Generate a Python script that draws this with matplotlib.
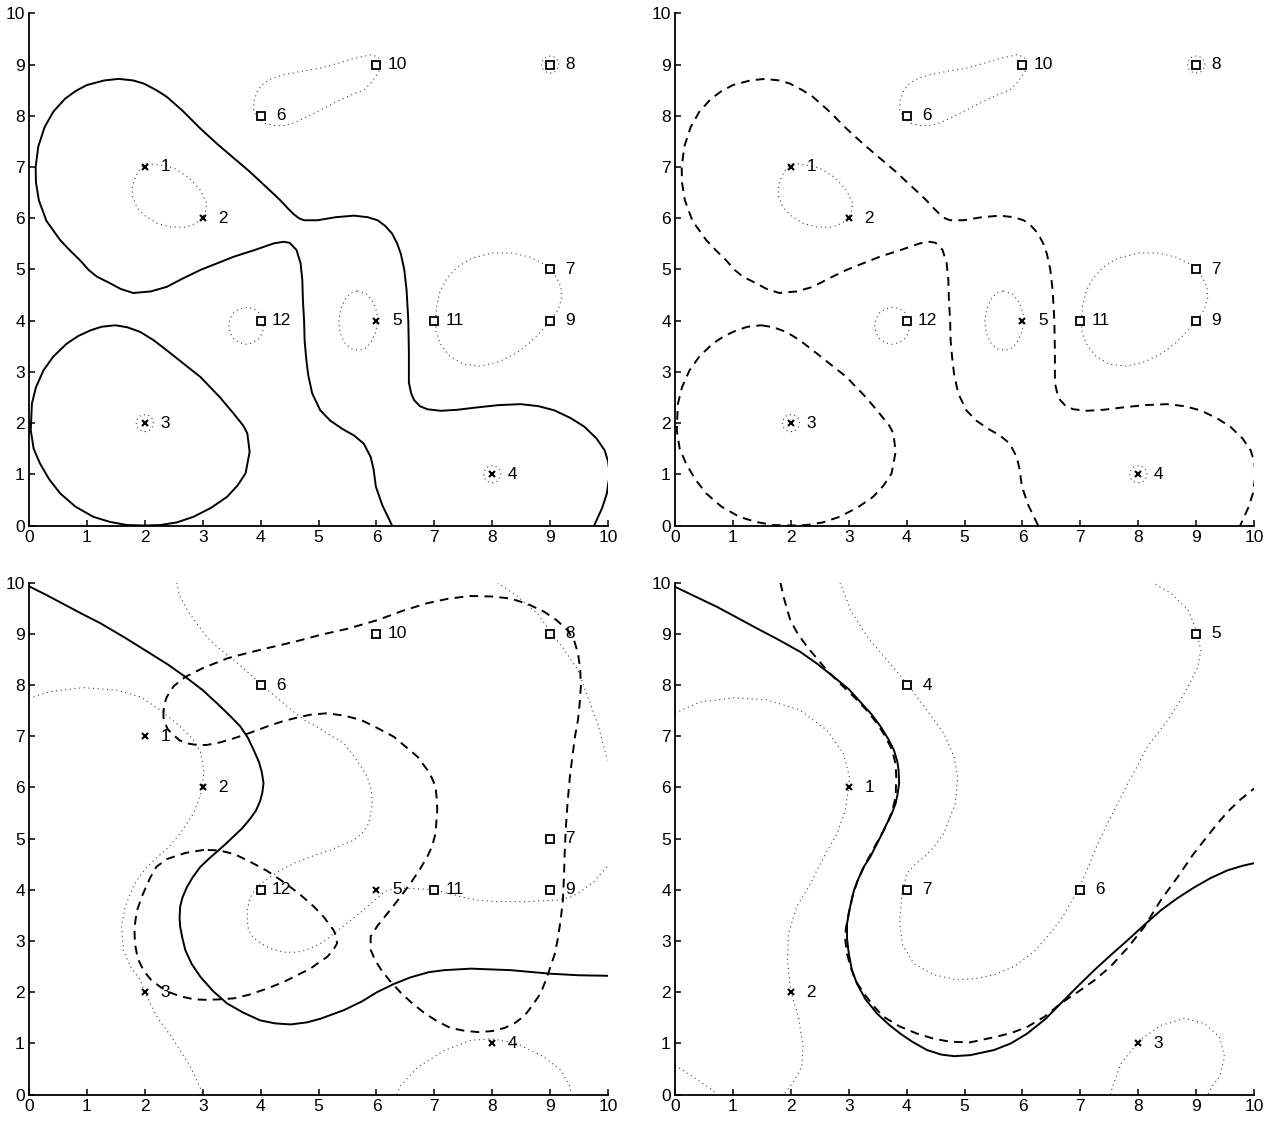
import numpy as np
import matplotlib
matplotlib.use('Agg')
from matplotlib import pyplot as plt

plt.rcParams['font.family'] = ['Liberation Sans', 'DejaVu Sans']

#### data points (top panels and bottom-left panel)

cross_xy = [(2, 7), (3, 6), (2, 2), (8, 1), (6, 4)]
cross_ids = [1, 2, 3, 4, 5]
square_xy = [(4, 8), (9, 5), (9, 9), (9, 4), (6, 9), (7, 4), (4, 4)]
square_ids = [6, 7, 8, 9, 10, 11, 12]

# tiny dotted rings around support points in the top panels
ring_xy = [(2, 2), (8, 1), (9, 9)]

#### data points (bottom-right panel)

cross_xy4 = [(3, 6), (2, 2), (8, 1)]
cross_ids4 = [1, 2, 3]
square_xy4 = [(4, 8), (9, 9), (7, 4), (4, 4)]
square_ids4 = [4, 5, 6, 7]

#### top panels: decision boundary (solid on the left, dashed on the right)

top_bound_a = [
  (6.27, 0.0), (6.10, 0.4), (5.99, 0.76), (5.95, 1.1), (5.90, 1.34), (5.78, 1.60),
  (5.61, 1.76), (5.42, 1.88), (5.20, 2.05), (5.03, 2.25), (4.89, 2.58), (4.82, 2.95),
  (4.79, 3.23), (4.76, 3.6), (4.75, 4.01), (4.73, 4.4), (4.72, 4.79), (4.69, 5.12),
  (4.62, 5.38), (4.50, 5.52), (4.40, 5.54), (4.23, 5.51), (3.90, 5.38), (3.54, 5.25),
  (3.25, 5.12), (2.96, 4.99), (2.65, 4.82), (2.38, 4.66), (2.10, 4.57), (1.80, 4.54),
  (1.58, 4.62), (1.40, 4.73), (1.17, 4.86), (1.03, 4.99), (0.88, 5.18), (0.70, 5.38),
  (0.54, 5.57), (0.30, 5.95), (0.17, 6.35), (0.12, 6.7), (0.115, 7.0), (0.16, 7.4),
  (0.27, 7.78), (0.42, 8.08), (0.62, 8.33), (0.80, 8.48), (1.0, 8.6), (1.30, 8.69),
  (1.55, 8.72), (1.80, 8.69), (1.98, 8.63), (2.20, 8.5), (2.38, 8.37), (2.65, 8.1),
  (2.96, 7.75), (3.25, 7.45), (3.54, 7.17), (3.80, 6.92), (4.0, 6.71), (4.20, 6.5),
  (4.34, 6.35), (4.48, 6.18), (4.57, 6.08), (4.66, 6.0), (4.75, 5.96), (4.98, 5.96),
  (5.30, 6.02), (5.61, 6.05), (5.85, 6.02), (6.02, 5.96), (6.15, 5.85), (6.27, 5.70),
  (6.36, 5.5), (6.42, 5.31), (6.48, 5.0), (6.52, 4.6), (6.55, 4.01), (6.56, 3.4),
  (6.56, 2.79), (6.60, 2.58), (6.65, 2.45), (6.75, 2.33), (6.88, 2.27), (7.11, 2.24),
  (7.40, 2.26), (7.69, 2.30), (8.10, 2.35), (8.49, 2.37), (8.80, 2.33), (9.07, 2.25),
  (9.35, 2.1), (9.59, 1.93), (9.80, 1.7), (9.94, 1.47), (10.0, 1.25), (10.03, 1.0),
  (10.0, 0.8), (9.98, 0.63), (9.90, 0.35), (9.76, 0.0)]

top_bound_b = [
  (1.49, 3.91), (1.70, 3.87), (1.92, 3.78), (2.15, 3.62), (2.38, 3.42), (2.96, 2.90),
  (3.30, 2.5), (3.53, 2.19), (3.70, 1.95), (3.77, 1.80), (3.81, 1.44), (3.74, 1.02),
  (3.60, 0.78), (3.42, 0.56), (3.15, 0.35), (2.84, 0.17), (2.55, 0.06), (2.27, 0.01),
  (2.0, 0.0), (1.69, 0.01), (1.40, 0.07), (1.11, 0.17), (0.80, 0.37), (0.54, 0.625),
  (0.35, 0.9), (0.19, 1.21), (0.08, 1.5), (0.03, 1.86), (0.05, 2.38), (0.12, 2.7),
  (0.25, 3.03), (0.42, 3.3), (0.65, 3.55), (0.85, 3.7), (1.06, 3.81), (1.25, 3.88),
  (1.49, 3.91)]

#### top panels: margins (dotted)

top_margin_1 = [
  (2.04, 7.07), (2.3, 7.03), (2.5, 6.98), (2.75, 6.8), (2.96, 6.55), (3.07, 6.29),
  (3.04, 6.1), (2.95, 5.95), (2.80, 5.86), (2.67, 5.82), (2.45, 5.83), (2.21, 5.90),
  (2.0, 6.05), (1.86, 6.22), (1.79, 6.42), (1.78, 6.58), (1.82, 6.75), (1.88, 6.9),
  (1.95, 7.0), (2.04, 7.07)]

top_margin_2 = [
  (3.88, 8.11), (3.89, 8.31), (3.95, 8.5), (4.05, 8.63), (4.20, 8.73), (4.40, 8.80),
  (4.75, 8.88), (5.03, 8.93), (5.35, 9.03), (5.61, 9.12), (5.9, 9.19), (6.03, 9.15),
  (6.08, 9.02), (6.04, 8.86), (5.92, 8.66), (5.78, 8.50), (5.55, 8.4), (5.38, 8.31),
  (5.20, 8.21), (5.03, 8.11), (4.80, 7.98), (4.57, 7.86), (4.40, 7.81), (4.23, 7.81),
  (4.08, 7.85), (3.96, 7.95), (3.88, 8.11)]

top_margin_3 = [
  (4.05, 3.9), (4.03, 4.05), (3.96, 4.17), (3.87, 4.24), (3.75, 4.26), (3.63, 4.23),
  (3.53, 4.15), (3.47, 4.04), (3.45, 3.9), (3.47, 3.76), (3.53, 3.65), (3.63, 3.57),
  (3.75, 3.54), (3.87, 3.57), (3.97, 3.65), (4.03, 3.76), (4.05, 3.9)]

top_margin_4 = [
  (5.67, 4.58), (5.83, 4.52), (5.95, 4.35), (6.01, 4.15), (6.02, 4.01), (5.99, 3.78),
  (5.90, 3.56), (5.80, 3.45), (5.70, 3.42), (5.56, 3.45), (5.44, 3.58), (5.37, 3.78),
  (5.35, 4.0), (5.38, 4.22), (5.46, 4.42), (5.55, 4.54), (5.67, 4.58)]

top_margin_5 = [
  (7.02, 4.0), (7.04, 4.3), (7.10, 4.58), (7.22, 4.83), (7.40, 5.05), (7.65, 5.22),
  (8.0, 5.32), (8.35, 5.32), (8.65, 5.24), (8.90, 5.1), (9.07, 4.92), (9.18, 4.68),
  (9.20, 4.45), (9.14, 4.22), (9.0, 4.0), (8.85, 3.8), (8.65, 3.57), (8.42, 3.37),
  (8.12, 3.2), (7.80, 3.11), (7.50, 3.15), (7.27, 3.3), (7.10, 3.55), (7.03, 3.78),
  (7.02, 4.0)]

top_margins = [top_margin_1, top_margin_2, top_margin_3, top_margin_4, top_margin_5]

#### bottom-left panel

bl_solid = [
  (0.0, 9.93), (0.3, 9.76), (0.6, 9.58), (0.9, 9.40), (1.23, 9.21), (1.65, 8.93),
  (2.09, 8.62), (2.40, 8.40), (2.70, 8.16), (3.0, 7.90), (3.25, 7.64), (3.47, 7.40),
  (3.65, 7.19), (3.78, 6.97), (3.88, 6.73), (3.97, 6.5), (4.02, 6.30), (4.05, 6.08),
  (4.03, 5.90), (3.99, 5.73), (3.92, 5.55), (3.82, 5.39), (3.68, 5.2), (3.53, 5.04),
  (3.40, 4.90), (3.25, 4.75), (3.10, 4.6), (2.96, 4.45), (2.83, 4.25), (2.73, 4.06),
  (2.65, 3.85), (2.61, 3.67), (2.60, 3.45), (2.61, 3.28), (2.65, 3.05), (2.70, 2.82),
  (2.81, 2.55), (2.96, 2.30), (3.18, 2.02), (3.42, 1.78), (3.70, 1.60), (3.99, 1.45),
  (4.25, 1.39), (4.52, 1.37), (4.80, 1.41), (5.03, 1.48), (5.44, 1.65), (5.75, 1.82),
  (6.01, 2.00), (6.30, 2.16), (6.59, 2.29), (6.90, 2.39), (7.17, 2.43), (7.63, 2.46),
  (8.32, 2.43), (9.01, 2.36), (9.5, 2.33), (10.0, 2.32)]

bl_dash_a = [
  (2.32, 7.38), (2.33, 7.6), (2.38, 7.77), (2.50, 7.98), (2.70, 8.16), (3.0, 8.33),
  (3.42, 8.52), (3.75, 8.62), (4.11, 8.72), (4.6, 8.85), (5.03, 8.98), (5.5, 9.1),
  (6.02, 9.27), (6.45, 9.45), (6.88, 9.60), (7.25, 9.69), (7.63, 9.74), (8.0, 9.73),
  (8.32, 9.69), (8.62, 9.58), (8.90, 9.43), (9.12, 9.26), (9.30, 9.07), (9.42, 8.85),
  (9.48, 8.62), (9.52, 8.3), (9.53, 7.97), (9.51, 7.65), (9.48, 7.32), (9.43, 7.0),
  (9.39, 6.66), (9.34, 6.2), (9.30, 5.69), (9.27, 5.2), (9.25, 4.7), (9.24, 4.31),
  (9.22, 3.80), (9.18, 3.4), (9.13, 3.03), (9.08, 2.75), (9.01, 2.51), (8.93, 2.25),
  (8.84, 1.99), (8.70, 1.75), (8.55, 1.53), (8.38, 1.39), (8.21, 1.30), (8.0, 1.24),
  (7.75, 1.22), (7.50, 1.25), (7.28, 1.30), (7.05, 1.43), (6.82, 1.60), (6.60, 1.80),
  (6.42, 1.99), (6.24, 2.21), (6.08, 2.44), (5.97, 2.64), (5.90, 2.83), (5.90, 3.09),
  (6.02, 3.30), (6.19, 3.54), (6.40, 3.84), (6.59, 4.13), (6.75, 4.40), (6.88, 4.65),
  (6.96, 4.85), (7.02, 5.1), (7.05, 5.56), (7.04, 5.8), (7.02, 6.01), (6.96, 6.18),
  (6.88, 6.34), (6.71, 6.60), (6.50, 6.80), (6.30, 6.99), (6.0, 7.17), (5.73, 7.32),
  (5.45, 7.40), (5.15, 7.45), (4.86, 7.42), (4.69, 7.38), (4.40, 7.30), (4.11, 7.19),
  (3.80, 7.06), (3.54, 6.96), (3.30, 6.88), (3.07, 6.83), (2.90, 6.83), (2.73, 6.86),
  (2.60, 6.92), (2.50, 7.02), (2.40, 7.13), (2.35, 7.25), (2.32, 7.38)]

bl_dash_b = [
  (3.02, 4.78), (2.70, 4.72), (2.38, 4.60), (2.20, 4.45), (2.09, 4.23), (1.96, 3.9),
  (1.86, 3.58), (1.82, 3.25), (1.83, 2.94), (1.88, 2.65), (1.98, 2.42), (2.10, 2.25),
  (2.27, 2.10), (2.42, 2.0), (2.61, 1.92), (2.85, 1.86), (3.07, 1.85), (3.30, 1.86),
  (3.54, 1.88), (3.80, 1.95), (4.11, 2.07), (4.40, 2.2), (4.68, 2.36), (4.86, 2.46),
  (5.03, 2.60), (5.15, 2.69), (5.25, 2.82), (5.32, 2.95), (5.30, 3.1), (5.26, 3.21),
  (5.09, 3.47), (4.92, 3.67), (4.68, 3.91), (4.40, 4.15), (4.11, 4.37), (3.80, 4.56),
  (3.54, 4.70), (3.28, 4.77), (3.02, 4.78)]

bl_dot_a = [
  (0.0, 7.74), (0.36, 7.87), (0.94, 7.95), (1.52, 7.90), (1.92, 7.77), (2.27, 7.51),
  (2.61, 7.19), (2.84, 6.93), (2.96, 6.70), (3.02, 6.34), (2.99, 5.95), (2.84, 5.49),
  (2.61, 5.10), (2.40, 4.82), (2.20, 4.62), (2.04, 4.45), (1.90, 4.25), (1.80, 4.06),
  (1.66, 3.67), (1.60, 3.28), (1.63, 2.82), (1.75, 2.50), (1.92, 2.24), (2.0, 2.0),
  (2.21, 1.52), (2.50, 1.06), (2.79, 0.54), (2.96, 0.12), (3.0, 0.0)]

bl_dot_b = [
  (2.55, 10.0), (2.60, 9.75), (2.73, 9.47), (2.90, 9.2), (3.07, 8.94), (3.30, 8.70),
  (3.54, 8.49), (3.78, 8.25), (3.99, 8.03), (4.20, 7.83), (4.40, 7.64), (4.60, 7.45),
  (4.80, 7.28), (4.92, 7.22), (5.20, 7.02), (5.44, 6.86), (5.65, 6.55), (5.84, 6.21),
  (5.91, 5.95), (5.93, 5.69), (5.87, 5.30), (5.75, 5.1), (5.61, 4.97), (5.21, 4.78),
  (4.90, 4.66), (4.60, 4.53), (4.34, 4.38), (4.10, 4.2), (3.94, 4.06), (3.82, 3.85),
  (3.77, 3.61), (3.77, 3.4), (3.79, 3.22), (3.87, 3.07), (3.99, 2.96), (4.18, 2.85),
  (4.40, 2.78), (4.62, 2.78), (4.80, 2.83), (5.03, 2.95), (5.15, 3.04), (5.44, 3.30),
  (5.73, 3.56), (5.95, 3.78), (6.15, 3.97), (6.35, 4.04), (6.70, 4.02), (7.0, 4.0),
  (7.25, 3.93), (7.46, 3.86), (7.75, 3.8), (8.04, 3.77), (8.61, 3.77), (9.13, 3.80),
  (9.35, 3.86), (9.48, 3.93), (9.75, 4.15), (10.0, 4.48)]

bl_dot_c = [
  (8.09, 10.0), (8.44, 9.73), (8.78, 9.40), (9.01, 9.04), (9.25, 8.68), (9.48, 8.29),
  (9.65, 7.77), (9.82, 7.25), (9.99, 6.53)]

bl_dot_d = [
  (6.35, 0.0), (6.42, 0.18), (6.71, 0.53), (7.17, 0.86), (7.63, 1.06), (8.0, 1.09),
  (8.44, 0.99), (8.90, 0.73), (9.19, 0.47), (9.33, 0.18), (9.37, 0.0)]

bl_dots = [bl_dot_a, bl_dot_b, bl_dot_c, bl_dot_d]

#### bottom-right panel

br_solid = [
  (0.0, 9.92), (0.35, 9.73), (0.72, 9.53), (1.05, 9.33), (1.41, 9.11), (1.78, 8.89),
  (2.16, 8.65), (2.45, 8.42), (2.74, 8.16), (3.0, 7.92), (3.20, 7.67), (3.40, 7.42),
  (3.55, 7.19), (3.68, 6.95), (3.78, 6.73), (3.84, 6.5), (3.86, 6.34), (3.87, 6.08),
  (3.84, 5.85), (3.81, 5.69), (3.74, 5.48), (3.66, 5.30), (3.55, 5.04), (3.45, 4.82),
  (3.37, 4.64), (3.26, 4.45), (3.16, 4.2), (3.09, 3.99), (3.02, 3.65), (2.97, 3.34),
  (2.97, 3.05), (3.0, 2.76), (3.05, 2.45), (3.14, 2.17), (3.29, 1.86), (3.49, 1.58),
  (3.70, 1.36), (3.89, 1.19), (4.10, 1.03), (4.35, 0.87), (4.60, 0.78), (4.82, 0.75),
  (5.10, 0.77), (5.51, 0.87), (5.80, 1.0), (6.08, 1.19), (6.40, 1.48), (6.66, 1.78),
  (6.95, 2.11), (7.24, 2.43), (7.52, 2.72), (7.81, 3.01), (8.10, 3.31), (8.39, 3.60),
  (8.68, 3.84), (8.97, 4.05), (9.25, 4.23), (9.54, 4.38), (9.80, 4.47), (10.0, 4.52)]

br_dash = [
  (1.82, 10.0), (1.88, 9.7), (1.99, 9.27), (2.12, 9.0), (2.28, 8.75), (2.45, 8.52),
  (2.62, 8.29), (2.85, 8.03), (3.09, 7.77), (3.30, 7.52), (3.49, 7.25), (3.63, 7.0),
  (3.75, 6.73), (3.81, 6.45), (3.82, 6.21), (3.81, 5.82), (3.76, 5.58), (3.69, 5.36),
  (3.60, 5.15), (3.50, 4.95), (3.38, 4.70), (3.27, 4.47), (3.16, 4.2), (3.07, 3.9),
  (3.00, 3.55), (2.95, 3.25), (2.94, 3.02), (2.97, 2.75), (3.03, 2.50), (3.12, 2.22),
  (3.26, 1.98), (3.42, 1.74), (3.60, 1.52), (3.88, 1.33), (4.18, 1.19), (4.47, 1.09),
  (4.76, 1.03), (5.10, 1.02), (5.51, 1.12), (5.80, 1.20), (6.08, 1.32), (6.38, 1.52),
  (6.66, 1.78), (6.95, 2.0), (7.24, 2.23), (7.52, 2.50), (7.81, 2.86), (8.10, 3.27),
  (8.39, 3.80), (8.68, 4.25), (8.94, 4.68), (9.14, 4.97), (9.35, 5.27), (9.54, 5.52),
  (9.75, 5.75), (10.0, 5.98)]

br_dot_a = [
  (0.0, 7.45), (0.43, 7.67), (1.01, 7.75), (1.59, 7.71), (2.16, 7.51), (2.62, 7.12),
  (2.91, 6.66), (3.01, 6.21), (3.0, 6.01), (2.94, 5.56), (2.80, 5.10), (2.57, 4.64),
  (2.45, 4.38), (2.34, 4.12), (2.10, 3.67), (1.96, 3.15), (1.94, 2.63), (2.0, 2.01),
  (2.13, 1.52), (2.21, 0.94), (2.19, 0.55), (2.05, 0.26), (1.90, 0.03), (1.88, 0.0)]

br_dot_b = [(0.0, 0.57), (0.32, 0.34), (0.66, 0.08), (0.70, 0.0)]

br_dot_c = [
  (2.85, 10.0), (3.03, 9.47), (3.32, 8.94), (3.66, 8.49), (4.0, 8.03), (4.35, 7.51),
  (4.64, 7.06), (4.82, 6.60), (4.88, 6.21), (4.84, 5.69), (4.64, 5.10), (4.48, 4.85),
  (4.32, 4.66), (4.15, 4.5), (4.0, 4.32), (3.92, 3.93), (3.88, 3.41), (3.92, 2.95),
  (4.12, 2.56), (4.47, 2.34), (4.87, 2.24), (5.22, 2.27), (5.51, 2.34), (5.85, 2.50),
  (6.20, 2.79), (6.43, 3.09), (6.66, 3.41), (6.89, 3.86), (7.02, 4.15), (7.09, 4.32),
  (7.21, 4.65), (7.30, 4.9), (7.47, 5.30), (7.65, 5.7), (7.82, 6.08), (8.0, 6.45),
  (8.16, 6.80), (8.51, 7.32), (8.70, 7.65), (8.86, 7.97), (9.03, 8.36), (9.08, 8.68),
  (9.01, 9.04), (8.86, 9.47), (8.57, 9.79), (8.25, 10.0)]

br_dot_d = [
  (7.52, 0.0), (7.56, 0.17), (7.70, 0.60), (8.02, 1.06), (8.39, 1.35), (8.80, 1.49),
  (9.14, 1.39), (9.40, 1.13), (9.49, 0.73), (9.40, 0.34), (9.26, 0.14), (9.2, 0.0)]

br_dots = [br_dot_a, br_dot_b, br_dot_c, br_dot_d]

ticks = list(range(0, 11))

####

solid_kw = dict(color='k', lw=1.4, solid_capstyle='butt')
dash_kw = dict(color='k', lw=1.4, linestyle=(0, (4.5, 3.2)))
dot_kw = dict(color='k', lw=0.8, linestyle=(0, (1, 3.2)), alpha=0.75)


def curve(ax, pts, **kw):
  a = np.array(pts)
  ax.plot(a[:, 0], a[:, 1], **kw)


def setup(ax):
  ax.set_xlim(0, 10)
  ax.set_ylim(0, 10)
  ax.set_xticks(ticks)
  ax.set_yticks(ticks)
  for s in ['top', 'right']:
    ax.spines[s].set_visible(False)
  for s in ['left', 'bottom']:
    ax.spines[s].set_linewidth(1.3)
  ax.tick_params(direction='in', length=4, width=1.1, labelsize=12.5, pad=3)


def points(ax, cxy, cid, sxy, sid):
  c = np.array(cxy)
  s = np.array(sxy)
  ax.plot(c[:, 0], c[:, 1], 'x', color='k', ms=4.5, mew=1.5, zorder=5)
  ax.plot(s[:, 0], s[:, 1], 's', color='k', mfc='white', ms=5.5, mew=1.3, zorder=5)
  for (x, y), n in list(zip(cxy, cid)) + list(zip(sxy, sid)):
    ax.annotate('%2d' % n, (x, y), xytext=(8, 0), textcoords='offset points',
                ha='left', va='center', fontsize=12.5)


fig = plt.figure(figsize=(12.78, 11.21), dpi=100)

ax1 = fig.add_axes([0.0227, 0.5312, 0.4531, 0.4569])
ax2 = fig.add_axes([0.5282, 0.5312, 0.4531, 0.4569])
ax3 = fig.add_axes([0.0227, 0.0236, 0.4531, 0.4566])
ax4 = fig.add_axes([0.5282, 0.0236, 0.4531, 0.4566])

# top row: same classifier, solid and dashed
for ax, kw in [(ax1, solid_kw), (ax2, dash_kw)]:
  setup(ax)
  curve(ax, top_bound_a, **kw)
  curve(ax, top_bound_b, **kw)
  for m in top_margins:
    curve(ax, m, **dot_kw)
  r = np.array(ring_xy)
  ax.scatter(r[:, 0], r[:, 1], s=150, facecolors='none', edgecolors='k',
             linewidths=0.8, linestyle=(0, (1, 3)), alpha=0.75)
  points(ax, cross_xy, cross_ids, square_xy, square_ids)

# bottom left
setup(ax3)
curve(ax3, bl_solid, **solid_kw)
curve(ax3, bl_dash_a, **dash_kw)
curve(ax3, bl_dash_b, **dash_kw)
for d in bl_dots:
  curve(ax3, d, **dot_kw)
points(ax3, cross_xy, cross_ids, square_xy, square_ids)

# bottom right
setup(ax4)
curve(ax4, br_solid, **solid_kw)
curve(ax4, br_dash, **dash_kw)
for d in br_dots:
  curve(ax4, d, **dot_kw)
points(ax4, cross_xy4, cross_ids4, square_xy4, square_ids4)

plt.savefig('out.png', dpi=100)
